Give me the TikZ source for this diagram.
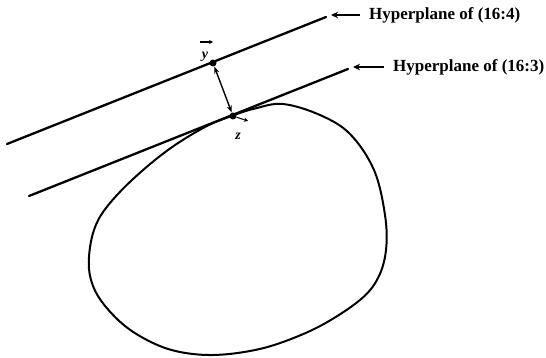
\documentclass[tikz,border=0pt]{standalone}
\usepackage{fontspec}
\setmainfont{Liberation Serif}
\usetikzlibrary{arrows.meta}
\begin{document}
\begin{tikzpicture}[x=1pt,y=-1pt,
  plane/.style={line width=2.3pt,line cap=round},
  blob/.style={line width=2pt},
  dot/.style={circle,fill=black,inner sep=0pt,minimum size=7pt},
  lab/.style={font=\fontsize{17}{19}\selectfont\bfseries,anchor=west,inner xsep=9pt,inner ysep=2pt},
  labarrow/.style={line width=1.5pt,-{Stealth[length=7pt,width=6.5pt]}},
  gap/.style={line width=1.4pt,{Stealth[length=7pt,width=5pt]}-{Stealth[length=7pt,width=5pt]}},
  vec/.style={line width=1.1pt,-{Stealth[length=4pt,width=4pt]}},
  letter/.style={font=\fontsize{14}{16}\selectfont\bfseries\itshape,inner sep=0pt}]
\useasboundingbox (0,0) rectangle (546,358);
% hyperplanes
\coordinate (a1) at (7,144);
\coordinate (a2) at (326,17);
\coordinate (b1) at (29,196);
\coordinate (b2) at (348,69);
\draw[plane] (a1) -- (a2);
\draw[plane] (b1) -- (b2);
% convex set
\draw[blob] plot[smooth cycle,tension=0.6] coordinates {
 (233,115.5) (255,108.5) (283,104) (320,115) (350,134) (374,170) (385,215)
 (386,250) (378,278) (360,300) (322,325) (283,342) (250,351) (213,355)
 (180,352) (153,343) (125,326) (102,302) (91,280) (89,257) (94,230)
 (106,208) (132,180) (168,150) (205,127)};
% points
\node[dot] (y) at (213,63) {};
\node[dot] (z) at (233,116) {};
\draw[gap] (y) -- (z);
% vector labels
\node[letter] (ylab) at (205,57) {y};
\coordinate (ya1) at (200,42);
\coordinate (ya2) at (213,42);
\draw[vec] (ya1) -- (ya2);
\node[letter] (zlab) at (238,136) {z};
\coordinate (za2) at (248,121);
\draw[vec] (z) -- (za2);
% labels
\node[lab] (l1) at (360,15) {Hyperplane of (16:4)};
\node[lab] (l2) at (384,67) {Hyperplane of (16:3)};
\coordinate (t1) at (331,15);
\coordinate (t2) at (353,67);
\draw[labarrow] (l1.west) -- (t1);
\draw[labarrow] (l2.west) -- (t2);
\end{tikzpicture}
\end{document}
